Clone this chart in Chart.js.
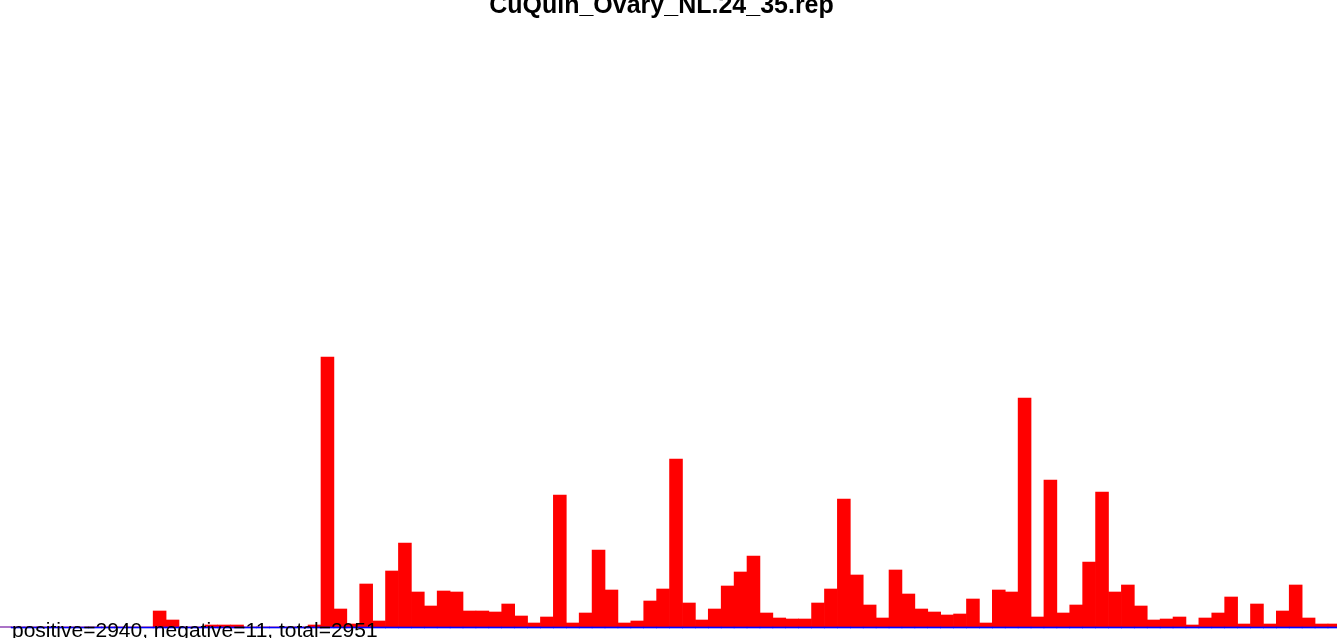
<!DOCTYPE html>
<html>
<head>
<meta charset="utf-8">
<title>CuQuin_Ovary_NL.24_35.rep</title>
<script src="https://cdn.jsdelivr.net/npm/chart.js@4.4.0/dist/chart.umd.min.js"></script>
<style>
    html, body { margin: 0; padding: 0; background: #fff; overflow: hidden; }
    #wrap { position: relative; width: 1337px; height: 638px; }
</style>
</head>
<body>
<div id="wrap"><canvas id="repChart"></canvas></div>
<script>
var chartTitle = 'CuQuin_Ovary_NL.24_35.rep';
var summaryText = 'positive=2940, negative=11, total=2951';

// bins 0..103
var positives = [
    0, 0, 0, 0, 0, 0, 0, 0, 0, 0, 0, 0,
    16, 7, 0, 0, 2, 2, 2, 0, 0, 0, 0, 0, 2,
    270, 18, 3, 43, 6, 56, 84, 35, 21, 36,
    35, 16, 16, 15, 23, 11, 4, 10, 132, 4, 14, 77, 37, 4, 6, 26, 38, 168,
    24, 7, 18, 41, 55, 71, 14, 9, 8, 8, 24, 38, 128, 52, 22, 9, 57,
    33, 18, 15, 12, 13, 28, 4, 37, 35, 229, 10, 147, 14, 22, 65, 135, 35, 42,
    21, 7, 8, 10, 2, 9, 14, 30, 3, 23, 3, 16, 42, 9, 3, 3
];
var negatives = positives.map(function (v, i) { return i === 0 ? 0 : -1; });
var bins = positives.map(function (v, i) { return i; });

var textPlugin = {
    id: 'repText',
    afterDraw: function (chart) {
        var ctx = chart.ctx;
        ctx.save();
        ctx.fillStyle = '#000';
        ctx.textBaseline = 'alphabetic';
        ctx.textAlign = 'center';
        ctx.font = 'bold 25px "Liberation Sans", Arial, sans-serif';
        ctx.fillText(chartTitle, 661.5, 13.3);
        ctx.textAlign = 'left';
        ctx.font = '21px "Liberation Sans", Arial, sans-serif';
        ctx.fillText(summaryText, 12, 637);
        ctx.restore();
    }
};

var ctx = document.getElementById('repChart').getContext('2d');
var chart = new Chart(ctx, {
    type: 'bar',
    data: {
        datasets: [{
            // thin blue row along the baseline
            label: 'negative',
            data: bins.map(function (b) { return { x: b + 0.5, y: negatives[b] }; }),
            backgroundColor: '#0000ff',
            borderWidth: 0,
            barPercentage: 1,
            categoryPercentage: 1,
            grouped: false,
            order: 0
        }, {
            label: 'positive',
            data: bins.map(function (b) { return { x: b + 0.5, y: positives[b] }; }),
            backgroundColor: '#ff0000',
            borderWidth: 0,
            barPercentage: 1,
            categoryPercentage: 1,
            grouped: false,
            order: 1
        }]
    },
    options: {
        responsive: false,
        animation: false,
        maintainAspectRatio: false,
        layout: { padding: 0 },
        plugins: {
            legend: { display: false },
            title: { display: false },
            tooltip: { enabled: false }
        },
        scales: {
            x: {
                type: 'linear',
                min: 0.1356,
                max: 103.70,
                offset: false,
                bounds: 'ticks',
                display: false,
                grid: { display: false, offset: false }
            },
            y: {
                min: -11,
                max: 627,
                display: false,
                grid: { display: false }
            }
        }
    },
    plugins: [textPlugin]
});
chart.canvas.style.width = '1337px';
chart.canvas.style.height = '638px';
chart.resize(1337, 638);
</script>
</body>
</html>
